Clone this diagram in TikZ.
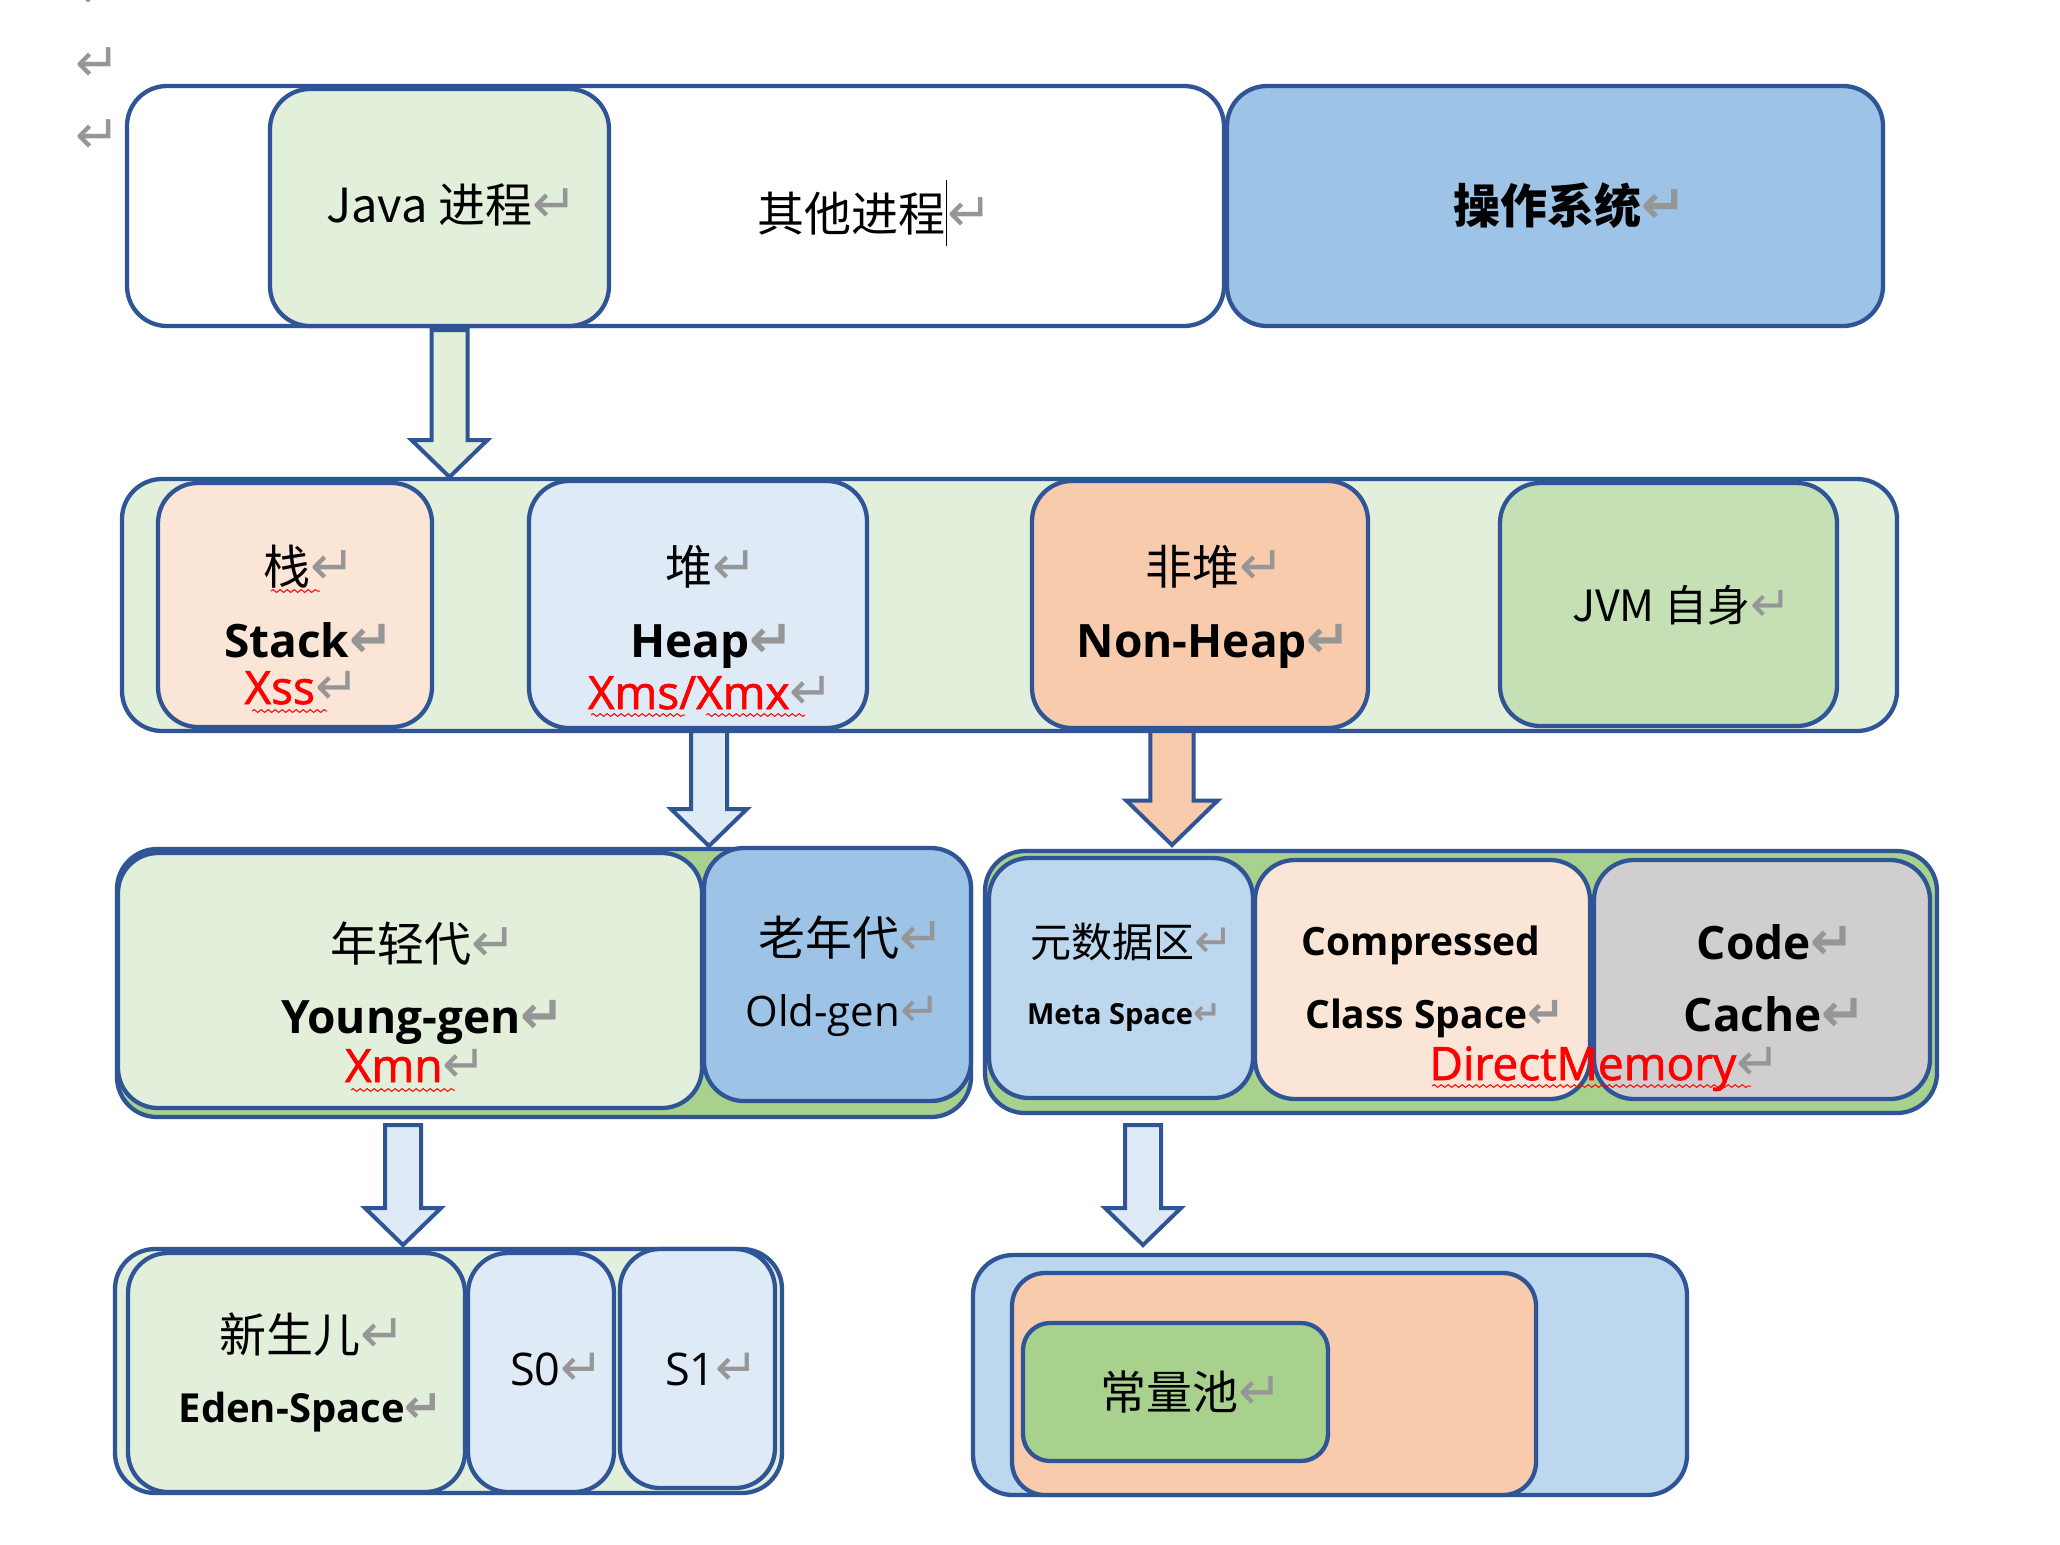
\documentclass[tikz,border=0pt]{standalone}
\usepackage{fontspec}
\setmainfont{Open Sans}
\newfontfamily\cnfont{Noto Sans CJK SC}
\newfontfamily\retfont{DejaVu Sans}
\newfontfamily\redfont[FakeBold=1.5]{Open Sans}
\usetikzlibrary{calc,decorations.pathmorphing}
\definecolor{frameblue}{RGB}{47, 85, 151}
\definecolor{palegreen}{RGB}{226, 239, 218}
\definecolor{midgreen}{RGB}{197, 224, 180}
\definecolor{leafgreen}{RGB}{169, 209, 142}
\definecolor{palepeach}{RGB}{251, 229, 214}
\definecolor{peach}{RGB}{248, 203, 173}
\definecolor{paleblue}{RGB}{222, 235, 247}
\definecolor{skyblue}{RGB}{189, 215, 238}
\definecolor{steelblue}{RGB}{157, 195, 230}
\definecolor{ashgray}{RGB}{208, 206, 206}
\definecolor{optred}{RGB}{255, 0, 0}
\definecolor{markgray}{RGB}{150, 150, 150}

\newcommand{\ret}{\textcolor{markgray}{\scalebox{1.15}{\retfont ↵}}}
\newcommand{\cursorbar}{\rule[-0.32em]{0.8pt}{1.4em}}
% block arrow: [scale]{from}{to}{fill}
\newcommand{\blockarrow}[4][1]{%
  \draw[arrowline, fill=#4] let \p1=(#2), \p2=(#3) in
    (\x1-9pt*#1,\y1) -- (\x1+9pt*#1,\y1) -- (\x1+9pt*#1,\y2+18.5pt*#1)
    -- (\x1+19pt*#1,\y2+18.5pt*#1) -- (\x2,\y2) -- (\x1-19pt*#1,\y2+18.5pt*#1)
    -- (\x1-9pt*#1,\y2+18.5pt*#1) -- cycle;}

\begin{document}
\begin{tikzpicture}[x=0.5pt, y=-0.5pt,
    box/.style={draw=frameblue, line width=2.15pt, rounded corners=20pt, inner sep=0pt},
    lbl/.style={anchor=base, inner sep=0pt},
    cn/.style={lbl, font=\cnfont\fontsize{23.5pt}{28pt}\selectfont},
    en/.style={lbl, font=\bfseries\fontsize{23pt}{28pt}\selectfont},
    opt/.style={lbl, text=optred, font=\redfont\fontsize{23pt}{28pt}\selectfont},
    retmark/.style={inner sep=0pt, text=markgray, font=\retfont\fontsize{27pt}{30pt}\selectfont},
    wavy/.style={draw=optred, line width=0.5pt, decorate,
                 decoration={snake, amplitude=0.7pt, segment length=3.5pt}},
    arrowline/.style={draw=frameblue, line width=2pt}]
    \useasboundingbox (0,0) rectangle (2060,1544);
    \fill[white] (0,0) rectangle (2060,1544);
    % paragraph marks in the margin
    \node[retmark] (mark0) at (98,-8)  {↵};
    \node[retmark] (mark1) at (98,65)  {↵};
    \node[retmark] (mark2) at (98,137) {↵};
    % Processes
    \node[box, fill=white,     minimum width=548.5pt, minimum height=120pt]   (others) at (675.5,206)  {};
    \node[box, fill=palegreen, minimum width=169.5pt, minimum height=118.5pt] (java)   at (439.5,207.5) {};
    \node[box, fill=steelblue, minimum width=328pt,   minimum height=120pt]   (os)     at (1555,206)   {};
    \node[cn] (javatxt)  at (452,222) {Java 进程\ret};
    \node[cn] (othertxt) at (875,231) {其他进程\cursorbar\ret};
    \node[cn, font=\cnfont\bfseries\fontsize{23.5pt}{28pt}\selectfont] (ostxt) at (1570,223) {操作系统\ret};
    % JVM memory
    \node[box, fill=palegreen, minimum width=887.5pt, minimum height=126pt]   (jvm)     at (1009.5,605)  {};
    \node[box, fill=palepeach, minimum width=137pt,   minimum height=122pt]   (stack)   at (295,605)     {};
    \node[box, fill=paleblue,  minimum width=169pt,   minimum height=123.5pt] (heap)    at (698,604.5)   {};
    \node[box, fill=peach,     minimum width=168pt,   minimum height=123.5pt] (nonheap) at (1200,604.5)  {};
    \node[box, fill=midgreen,  minimum width=168.5pt, minimum height=121.5pt] (self)    at (1668.5,604.5) {};
    \node[cn]  (stackcn)   at (310,584)  {栈\ret};
    \node[en]  (stacken)   at (309,657)  {Stack\ret};
    \node[opt] (xss)       at (302,704)  {Xss\ret};
    \node[cn]  (heapcn)    at (712,584)  {堆\ret};
    \node[en]  (heapen)    at (712,657)  {Heap\ret};
    \node[opt] (xmx)       at (711,709)  {Xms/Xmx\ret};
    \node[cn]  (nonheapcn) at (1215,584) {非堆\ret};
    \node[en]  (nonheapen) at (1214,657) {Non-Heap\ret};
    \node[cn, font=\cnfont\fontsize{21.5pt}{26pt}\selectfont] (selftxt) at (1682,621) {JVM 自身\ret};
    % Heap split
    \node[box, fill=leafgreen, minimum width=427pt,   minimum height=134pt]   (heaparea) at (544,983)    {};
    \node[box, fill=palegreen, minimum width=292pt,   minimum height=127.5pt] (young)    at (410,980.5)  {};
    \node[box, fill=steelblue, minimum width=133.5pt, minimum height=126.5pt] (old)      at (837.5,974.5) {};
    \node[cn]  (youngcn) at (424,961)  {年轻代\ret};
    \node[en]  (youngen) at (423,1033) {Young-gen\ret};
    \node[opt] (xmn)     at (416,1082) {Xmn\ret};
    \node[cn]  (oldcn)   at (852,955)  {老年代\ret};
    \node[lbl, font=\fontsize{21pt}{26pt}\selectfont] (olden) at (843,1026) {Old-gen\ret};
    % Non-Heap split
    \node[box, fill=leafgreen, minimum width=476pt,   minimum height=131pt]   (offarea)   at (1461,982)    {};
    \node[box, fill=skyblue,   minimum width=132pt,   minimum height=120pt]   (meta)      at (1121,978)    {};
    \node[box, fill=palepeach, minimum width=167.5pt, minimum height=119.5pt] (ccs)       at (1422.5,979.5) {};
    \node[box, fill=ashgray,   minimum width=168pt,   minimum height=119.5pt] (codecache) at (1762,979.5)  {};
    \node[cn, font=\cnfont\fontsize{20.5pt}{25pt}\selectfont] (metacn) at (1132,957) {元数据区\ret};
    \node[en, font=\bfseries\fontsize{14.5pt}{18pt}\selectfont] (metaen) at (1124,1024) {Meta Space\ret};
    \node[en, font=\bfseries\fontsize{19.5pt}{24pt}\selectfont] (ccsone) at (1421,955)  {Compressed};
    \node[en, font=\bfseries\fontsize{19.5pt}{24pt}\selectfont] (ccstwo) at (1435,1028) {Class Space\ret};
    \node[en]  (codeone) at (1776,959)  {Code\ret};
    \node[en]  (codetwo) at (1775,1031) {Cache\ret};
    \node[opt] (direct)  at (1605,1080) {DirectMemory\ret};
    % Young split
    \node[box, fill=palegreen, minimum width=333.5pt, minimum height=122pt]   (youngarea) at (448.5,1371)  {};
    \node[box, fill=palegreen, minimum width=168.5pt, minimum height=119.5pt] (eden)      at (296.5,1372.5) {};
    \node[box, fill=paleblue,  minimum width=73pt,    minimum height=119.5pt] (szero)     at (541,1372.5)  {};
    \node[box, fill=paleblue,  minimum width=77.5pt,  minimum height=119.5pt] (sone)      at (697.5,1368.5) {};
    \node[cn] (edencn) at (313,1352) {新生儿\ret};
    \node[en, font=\bfseries\fontsize{20pt}{24pt}\selectfont] (edenen) at (311,1422) {Eden-Space\ret};
    \node[lbl, font=\fontsize{22.5pt}{27pt}\selectfont] (szerotxt) at (557,1385) {S0\ret};
    \node[lbl, font=\fontsize{22.5pt}{27pt}\selectfont] (sonetxt)  at (712,1385) {S1\ret};
    % Constant pool
    \node[box, fill=skyblue,   minimum width=357pt,   minimum height=120pt] (metaarea) at (1330,1375)  {};
    \node[box, fill=peach,     minimum width=262pt,   minimum height=111pt, rounded corners=16.5pt] (classarea) at (1274,1384) {};
    \node[box, fill=leafgreen, minimum width=152.5pt, minimum height=69pt,  rounded corners=13.5pt] (pool)      at (1175.5,1392) {};
    \node[cn, font=\cnfont\fontsize{23pt}{28pt}\selectfont] (pooltxt) at (1192,1409) {常量池\ret};
    % spell-check squiggles
    \draw[wavy] (271,591)  -- (320,591);
    \draw[wavy] (252,711)  -- (327,711);
    \draw[wavy] (591,715)  -- (685,715);
    \draw[wavy] (706,715)  -- (805,715);
    \draw[wavy] (351,1090) -- (455,1090);
    \draw[wavy] (1432,1086) -- (1751,1086);
    % Block arrows
    \coordinate (javaout)  at (449.5,330);  \coordinate (jvmin)     at (449.5,477);
    \coordinate (heapout)  at (709,731);    \coordinate (heapin)    at (709,846);
    \coordinate (offout)   at (1172,731);   \coordinate (offin)     at (1172,845);
    \coordinate (youngout) at (403,1125);   \coordinate (youngin)   at (403,1245);
    \coordinate (metaout)  at (1143,1125);  \coordinate (metain)    at (1143,1245);
    \blockarrow{javaout}{jvmin}{palegreen}
    \blockarrow{heapout}{heapin}{paleblue}
    \blockarrow[1.2]{offout}{offin}{peach}
    \blockarrow{youngout}{youngin}{paleblue}
    \blockarrow{metaout}{metain}{paleblue}
\end{tikzpicture}
\end{document}
